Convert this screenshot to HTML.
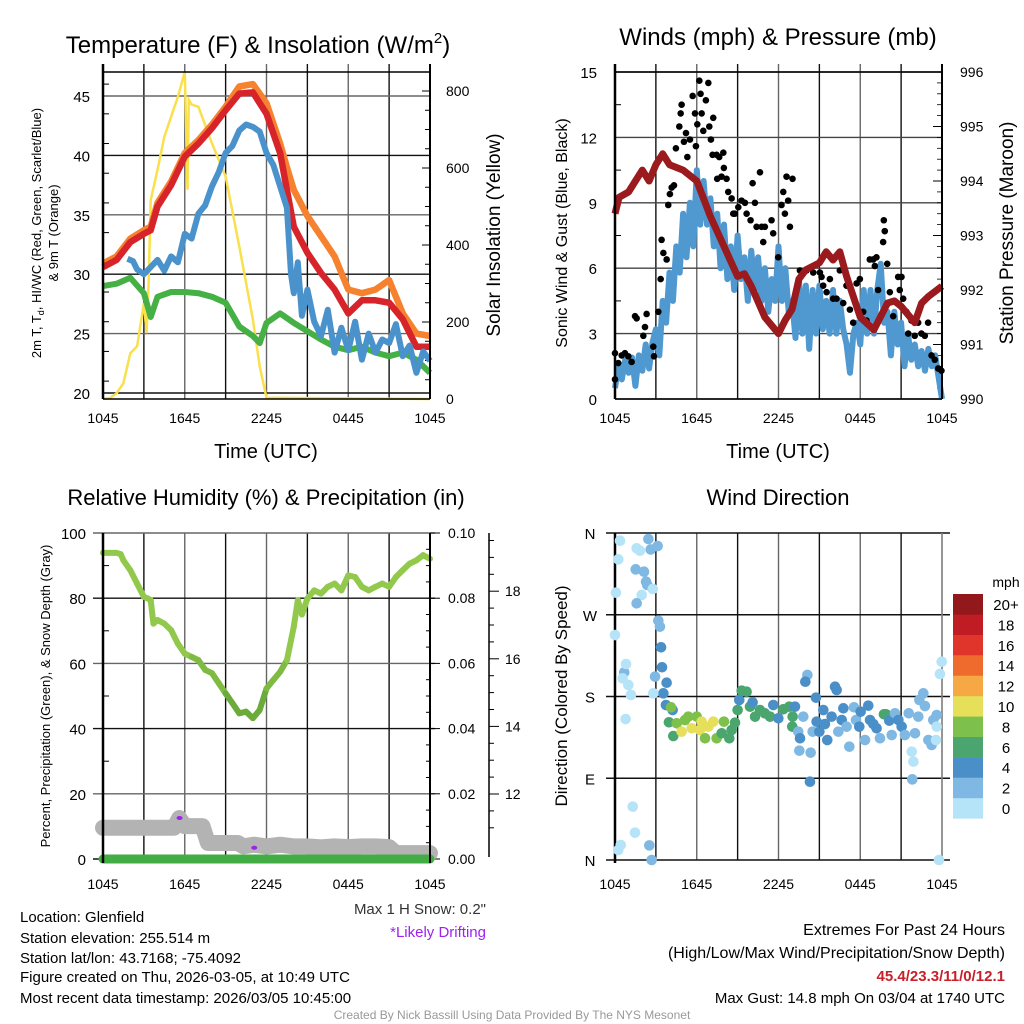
<!DOCTYPE html>
<html><head><meta charset="utf-8"><style>
html,body{margin:0;padding:0;background:#fff;}
svg{display:block;font-family:"Liberation Sans",Arial,sans-serif;}
</style></head><body>
<svg id="fig" width="1024" height="1024" viewBox="0 0 1024 1024"></svg>
<script>
// ---------- DATA (top-level arrays) ----------
const tHours = [0,1,2,3,3.5,4,5,6,7,8,9,10,11,12,13,13.5,14,15,16,17,18,19,20,21,22,23,24];
const temp2m = [30.6,31.2,32.7,33.4,33.7,35.7,37.5,39.9,41,42.3,43.8,45.2,45.3,43.5,40.2,37.1,34,31.8,30.1,28.7,26.7,27.8,27.8,27.6,26.2,23.9,23.9];
const temp9m = [30.9,31.5,33.0,33.7,34.0,36.0,37.8,40.2,41.3,42.6,44.1,45.8,46.0,44.4,41.0,39,37.1,34.9,33.2,31.5,28.7,28.4,28.7,29.5,26.7,25.0,24.8];
const dewHours = [0,1,2,3,3.5,4,5,6,7,8,9,10,11,11.5,12,13,14,15,16,17,18,19,20,21,22,23,24];
const dewpoint = [29,29.2,29.7,28.4,26.4,28.1,28.5,28.5,28.4,28.1,27.6,25.6,24.8,24.2,25.9,26.7,25.9,25.2,24.5,23.9,23.6,23.9,23.4,23.1,23.4,22.8,21.7];
const wcHours = [1.8,2.2,2.5,3,3.5,4,4.5,5,5.5,6,6.5,7,7.5,8,8.5,9,9.5,10,10.5,11,11.5,12,12.5,13,13.5,13.8,14,14.3,14.6,15,15.5,16,16.5,17,17.5,18,18.5,19,19.5,20,20.5,21,21.5,22,22.5,23,23.5,24];
const windChill = [31.3,31.1,30.4,30.0,30.6,31.2,30.3,31.5,31.0,33.4,33.0,35.1,35.8,37.4,38.6,40.2,40.8,42.1,42.6,42.4,42.0,40.2,39.2,37.4,35.6,30,28.4,31,26.5,28.7,26,24.8,27,23.4,25.5,23.6,26,22.8,25,23.4,24.5,24.2,25.8,23.1,24,21.7,23.5,22.7];
const solHours = [0,0.5,1,1.5,2,2.5,3,3.2,3.35,3.5,4,4.5,5,5.5,6,6.2,6.3,6.5,7,8,9,10,11,11.5,12,24];
const solar = [0,2,15,41,119,137,249,171,300,517,595,681,733,785,850,543,777,765,759,664,578,396,206,85,3,0];
const spdHours = [0,0.25,0.5,0.75,1,1.25,1.5,1.75,2,2.25,2.5,2.75,3,3.25,3.5,3.75,4,4.25,4.5,4.75,5,5.25,5.5,5.75,6,6.25,6.5,6.75,7,7.25,7.5,7.75,8,8.25,8.5,8.75,9,9.25,9.5,9.75,10,10.25,10.5,10.75,11,11.25,11.5,11.75,12,12.25,12.5,12.75,13,13.25,13.5,13.75,14,14.25,14.5,14.75,15,15.25,15.5,15.75,16,16.25,16.5,16.75,17,17.25,17.5,17.75,18,18.25,18.5,18.75,19,19.25,19.5,19.75,20,20.25,20.5,20.75,21,21.25,21.5,21.75,22,22.25,22.5,22.75,23,23.25,23.5,23.75,24];
const windSpd = [0.5,1.5,0.9,1.8,1.2,1.9,0.6,2.0,1.3,2.5,1.4,2.6,3.2,2.0,4.5,3.5,5.8,4.5,7.0,5.8,8.5,6.5,9.0,7.0,10.5,8.0,10.0,8.0,9.2,7.0,8.5,6.0,8.0,5.5,7.0,5.0,7.5,5.5,6.5,4.5,6.8,5.0,6.5,4.5,6.0,4.0,5.5,4.5,7.0,4.5,6.0,4.0,4.5,2.8,5.5,3.0,5.2,2.3,5.0,3.0,5.2,3.2,4.5,3.0,5.0,3.0,4.5,3.2,2.5,1.2,3.0,3.5,2.5,5.0,3.0,5.0,3.0,5.0,6.2,3.5,4.0,2.0,4.0,2.5,3.5,1.5,3.0,1.8,2.5,1.5,2.2,1.3,2.3,1.5,2.0,1.0,0];
const gustHours = [0,0,0.24,0.49,0.73,0.98,1.22,1.47,1.59,2.08,2.2,2.32,2.81,2.86,3.18,3.35,3.42,3.55,3.79,3.91,4.03,4.16,4.33,4.47,4.72,4.82,4.89,5.06,5.21,5.31,5.5,5.7,5.87,5.94,6.04,6.19,6.28,6.36,6.48,6.67,6.85,6.92,7.04,7.21,7.16,7.46,7.65,7.95,7.5,7.82,7.99,8.19,8.31,8.56,8.68,8.8,9.05,9.29,9.54,9.66,9.95,10.1,10.27,10.39,10.64,10.76,10.88,11.0,11.49,11.61,11.98,12.22,12.35,12.47,12.59,12.71,12.84,13.03,13.57,14.06,14.55,15.04,15.16,15.28,15.53,15.77,16.01,16.26,16.5,16.75,16.99,17.24,17.48,17.73,17.97,18.22,18.46,18.7,18.95,19.07,19.19,19.31,19.73,19.8,19.68,19.98,20.17,20.42,20.78,20.9,21.03,21.15,21.39,21.52,21.76,22.0,22.25,22.49,22.74,22.98,23.23,23.47,23.72,23.96];
const gustSpd = [0.9,2.1,1.65,2.0,2.1,1.96,1.7,3.8,3.7,2.9,3.3,3.9,2.4,1.96,4.0,5.5,7.3,6.7,6.4,8.9,9.4,9.7,9.8,11.5,12.5,13.1,13.5,11.8,12.2,11.1,11.9,13.9,13.1,11.6,12.6,14.6,14.0,13.1,12.3,13.7,14.5,12.5,11.9,12.9,11.2,11.2,11.1,11.3,10.1,10.2,10.6,10.1,9.5,9.2,8.5,8.5,8.8,9.1,9.0,8.5,8.2,9.9,9.0,7.9,10.4,7.9,7.2,7.9,8.2,7.6,6.5,8.9,9.5,8.5,10.2,9.1,7.9,10.1,5.9,5.9,5.8,5.8,5.6,5.2,4.9,5.5,4.6,4.6,5.9,4.4,5.2,4.1,3.5,5.3,5.5,4.0,3.6,6.4,6.4,6.1,6.5,5.0,8.2,7.7,7.2,6.2,4.9,3.8,5.6,5.0,5.6,4.6,4.0,3.0,3.6,2.9,3.5,3.0,2.9,3.5,2.0,1.8,1.4,1.3];
const presHours = [0,0.3,1,2,2.5,3,3.5,4,5,6,7,8,9,9.5,10,11,12,12.5,13,13.5,14,15,15.5,16,16.5,17,18,19,20,20.5,21,22,22.5,23,24];
const pressure = [993.4,993.7,993.8,994.2,994.0,994.3,994.5,994.3,994.2,994.0,993.35,992.8,992.25,992.3,992.07,991.5,991.2,991.45,991.65,992.2,992.37,992.5,992.7,992.55,992.7,992.25,991.5,991.27,991.76,991.8,991.7,991.4,991.76,991.88,992.07];
const rhHours = [0,1,1.3,1.5,2,2.5,3,3.3,3.5,3.7,4,4.5,5,5.5,6,6.5,7,7.5,8,8.5,9,9.5,10,10.5,11,11.5,12,12.5,13,13.5,14,14.3,14.6,15,15.5,16,16.5,17,17.5,18,18.5,19,19.5,20,20.5,21,21.5,22,22.5,23,23.5,24];
const rh = [93.9,93.9,93.5,91.6,88.6,84.5,80.4,79.9,79.4,72.2,73.3,72.2,70.2,66,63,62,61,58,57,53.9,50.8,47.8,44.7,45.2,43.2,45.7,52.3,54.9,57.4,61,71.2,79.4,75,79.9,82.4,81.4,83.5,84.5,82.4,87,86.5,83.5,82.4,83.5,84.5,83.5,86.5,88.6,90.6,91.6,93.2,92.1];
const precipHours = [0,24];
const precip = [0,0];
const snowHours = [0,5.2,5.6,6.0,7.3,7.7,9.9,10.3,11.1,12,13,14,15,16,17,18,19,20,21,21.5,24];
const snowDepth = [11.0,11.0,11.29,11.05,11.05,10.55,10.55,10.45,10.5,10.45,10.5,10.45,10.45,10.42,10.45,10.43,10.45,10.45,10.43,10.25,10.25];
const driftHours = [5.62,11.1];
const driftDepth = [11.29,10.41];
const dirHours = [0.37,0.24,0.07,0,0.68,0.81,0.56,0.98,1.17,0.78,1.3,1.47,0.42,0.24,1.59,1.83,1.52,2.13,2.28,2.37,1.96,1.59,2.45,2.62,3.13,2.77,2.52,2.69,3.18,3.3,3.38,3.45,2.94,3.79,3.55,2.81,3.74,4.23,4.11,
3.96,4.28,4.53,4.89,5.14,5.38,5.63,6.0,6.24,6.36,6.61,6.85,7.22,7.46,7.83,8.0,8.39,8.56,8.81,9.0,9.12,9.3,9.66,9.91,10.1,10.28,10.64,11.0,11.38,11.62,11.99,12.35,12.79,13.04,13.21,13.01,13.45,13.58,13.53,13.82,14.12,13.97,14.36,14.31,14.51,14.75,14.8,15.0,15.29,15.41,15.58,15.9,16.15,16.27,16.39,16.64,16.76,17.0,17.2,17.54,17.69,17.93,18.03,18.35,18.59,18.72,18.96,19.2,19.45,19.74,19.89,20.13,20.31,20.55,20.8,21.04,21.28,21.56,21.78,21.9,21.82,22.02,22.26,22.34,22.63,22.75,23.0,23.24,23.36,23.61,23.56,23.61,23.85,23.98,23.78];
const dirDeg = [351.5,331,294.3,247.7,206.7,215.8,200,192.7,181.7,155.2,58.7,30.1,16.5,11,343.2,340.5,320,317.4,306.4,302.8,291.8,282.6,353.4,341.9,345.7,298.4,16.1,0,263.5,256.9,234.2,212.2,201.9,195.2,183.5,183.5,170.6,165.1,168.1,
151.6,136.5,150.5,141.3,154.1,157.8,145,157.8,143.1,152.3,134,146.8,152.3,134,139.5,152.3,134,143.1,151.2,165.1,176.2,186.4,185.3,168.8,173.6,157.8,165.1,161.5,157.8,170.6,156,165.9,168.8,157.8,168.8,146.8,141.3,134,120.4,157.8,203.7,196.3,118.2,86.2,141.3,178.7,152.3,141.3,165.1,149.7,132.1,157.8,190.8,187.2,141.3,154.1,167,146.8,124.8,168.1,154.1,146.8,163.3,132.1,169.9,154.1,149.7,145,134,160.4,160.4,153.4,137.6,161.5,154.1,146.8,137.6,161.5,119.3,108.3,88.8,139.5,157.8,176.2,183.5,169.5,132.1,126.6,154.1,146.8,132.1,159.6,204.8,218.3,0];
const dirSpd = [1,1,1,1,3,1,1,1,1,1,1,1,1,1,1,1,3,3,3,3,1,3,3,3,3,1,3,3,3,3,5,5,3,5,5,1,5,5,9,
7,7,9,11,9,9,11,9,11,11,9,11,11,9,7,9,7,7,7,7,5,7,7,7,5,7,7,7,7,5,5,7,7,7,5,7,3,5,3,3,3,5,3,5,3,5,5,5,5,5,5,5,5,5,3,5,5,3,3,3,3,5,5,3,5,5,5,5,3,7,7,5,3,3,5,5,3,3,1,1,3,3,3,3,3,3,3,3,3,1,1,3,1,1,1,1];
const speedBins = [0,2,4,6,8,10,12,14,16,18,20];
const binLabels = ["0","2","4","6","8","10","12","14","16","18","20+"];
const binColors = ["#b5e3f8","#7fb8e2","#4a8fc7","#4aa56e","#7dc04c","#e5df5a","#f5a843","#ef6a2d","#e0352a","#bf1c24","#93181b"];
const timeLabels = ["1045","1645","2245","0445","1045"];

// ---------- helpers ----------
const NS="http://www.w3.org/2000/svg";
const svg=document.getElementById('fig');
function mk(tag,attrs,parent){const e=document.createElementNS(NS,tag);for(const k in attrs)e.setAttribute(k,attrs[k]);(parent||svg).appendChild(e);return e;}
function txt(s,x,y,size,anchor,parent,extra){const t=mk('text',Object.assign({x:x,y:y,'font-size':size,'text-anchor':anchor||'middle',fill:'#000'},extra||{}),parent);t.textContent=s;return t;}
function pathD(xs,ys,fx,fy){let d='';for(let i=0;i<xs.length;i++){d+=(i?'L':'M')+fx(xs[i]).toFixed(1)+','+fy(ys[i]).toFixed(1);}return d;}

function frame(g,x0,y0,x1,y1,xTickTop){
  for(let i=0;i<=8;i++){const x=x0+(x1-x0)*i/8;
    const l=mk('line',{x1:x,y1:y0-(xTickTop?8:0),x2:x,y2:y1,stroke:i%2?'#111':'#666','stroke-width':1.4},g);
    
    }
}

// ---------- PANEL 1 ----------
(function(){
const g=mk('g',{});
const X0=103,X1=430,Y0=72,Y1=399;
const fx=h=>X0+h*(X1-X0)/24, fy=t=>393-(t-20)*11.88, fw=w=>399-w*0.385;
frame(g,X0,Y0,X1,Y1,true);
[20,25,30,35,40,45].forEach(v=>{const l=mk('line',{x1:X0,y1:fy(v),x2:X1,y2:fy(v),stroke:(v%10)?'#666':'#111','stroke-width':1.4},g);
 const t=txt(String(v),90,fy(v)+6,15,'end',g);});
for(let v=21;v<47;v+=2.5){if(v%5)mk('line',{x1:X0,y1:fy(v),x2:X0+6,y2:fy(v),stroke:'#000'},g);}
[0,200,400,600,800].forEach(v=>{mk('line',{x1:X1,y1:fw(v),x2:X1-8,y2:fw(v),stroke:'#000'},g);const t=txt(String(v),446,fw(v)+5,14,'start',g);});
for(let v=50;v<850;v+=50){if(v%200)mk('line',{x1:X1,y1:fw(v),x2:X1-5,y2:fw(v),stroke:'#000'},g);}
const sol=mk('path',{d:pathD(solHours,solar,fx,fw),fill:'none',stroke:'#f9e04c','stroke-width':2.5},g);
const dp=mk('path',{d:pathD(dewHours,dewpoint,fx,fy),fill:'none',stroke:'#45b043','stroke-width':6,'stroke-linejoin':'round'},g);
const o=mk('path',{d:pathD(tHours,temp9m,fx,fy),fill:'none',stroke:'#f6822f','stroke-width':6.5,'stroke-linejoin':'round'},g);
const r=mk('path',{d:pathD(tHours,temp2m,fx,fy),fill:'none',stroke:'#d7242a','stroke-width':6.5,'stroke-linejoin':'round'},g);
const b=mk('path',{d:pathD(wcHours,windChill,fx,fy),fill:'none',stroke:'#4a92cb','stroke-width':6,'stroke-linejoin':'round'},g);
mk('line',{x1:X0,y1:Y0,x2:X1,y2:Y0,stroke:'#000','stroke-width':1.5},g);
mk('line',{x1:X0,y1:Y1,x2:X1,y2:Y1,stroke:'#000','stroke-width':1.5},g);
mk('line',{x1:X0,y1:64,x2:X0,y2:Y1,stroke:'#000','stroke-width':2.5},g);
mk('line',{x1:X1,y1:64,x2:X1,y2:Y1,stroke:'#000','stroke-width':2},g);
timeLabels.forEach((s,i)=>{const t=txt(s,X0+i*(X1-X0)/4,423,14,'middle',g);});
const ti=txt('Temperature (F) & Insolation (W/m',258,53,24,'middle',g);
const ts=mk('tspan',{'font-size':15,dy:-10},ti);ts.textContent='2';const ts2=mk('tspan',{dy:10},ti);ts2.textContent=')';
const xt=txt('Time (UTC)',266,458,20,'middle',g);
const yt=txt('',0,0,13,'middle',g,{transform:'translate(41,233) rotate(-90)'});
yt.innerHTML='<tspan>2m T, T</tspan><tspan font-size="9" dy="3">d</tspan><tspan dy="-3">, HI/WC (Red, Green, Scarlet/Blue)</tspan>';
const yt2=txt('& 9m T (Orange)',0,0,13,'middle',g,{transform:'translate(58,233) rotate(-90)'});
const rt=txt('Solar Insolation (Yellow)',0,0,19,'middle',g,{transform:'translate(500,235) rotate(-90)'});
})();

// ---------- PANEL 2 ----------
(function(){
const g=mk('g',{});
const X0=615,X1=942,Y0=72,Y1=399;
const fx=h=>X0+h*(X1-X0)/24, fs=s=>399-s*21.8, fp=p=>399-(p-990)*54.5;
frame(g,X0,Y0,X1,Y1,true);
[0,3,6,9,12,15].forEach(v=>{const l=mk('line',{x1:X0,y1:fs(v),x2:X1,y2:fs(v),stroke:'#444','stroke-width':1.4},g);
 const t=txt(String(v),597,fs(v)+6,15,'end',g);});
for(let v=1.5;v<15;v+=3){mk('line',{x1:X0,y1:fs(v),x2:X0+6,y2:fs(v),stroke:'#000'},g);}
[990,991,992,993,994,995,996].forEach(v=>{mk('line',{x1:X1,y1:fp(v),x2:X1-9,y2:fp(v),stroke:'#000'},g);const t=txt(String(v),960,fp(v)+5,14,'start',g);});
for(let v=990.2;v<996;v+=0.2){mk('line',{x1:X1,y1:fp(v),x2:X1-5,y2:fp(v),stroke:'#000','stroke-width':0.8},g);}
const b=mk('path',{d:pathD(spdHours,windSpd,fx,fs),fill:'none',stroke:'#4f98d0','stroke-width':6,'stroke-linejoin':'round'},g);
for(let i=0;i<gustHours.length;i++){const c=mk('circle',{cx:fx(gustHours[i]),cy:fs(gustSpd[i]),r:3.3,fill:'#000'},g);
 
 }
const p=mk('path',{d:pathD(presHours,pressure,fx,fp),fill:'none',stroke:'#9a1a1d','stroke-width':7,'stroke-linejoin':'round'},g);
mk('line',{x1:X0,y1:Y0,x2:X1,y2:Y0,stroke:'#000','stroke-width':1.5},g);
mk('line',{x1:X0,y1:Y1,x2:X1,y2:Y1,stroke:'#000','stroke-width':1.5},g);
mk('line',{x1:X0,y1:64,x2:X0,y2:Y1,stroke:'#000','stroke-width':2.5},g);
mk('line',{x1:X1,y1:64,x2:X1,y2:Y1,stroke:'#000','stroke-width':2},g);
timeLabels.forEach((s,i)=>{const t=txt(s,X0+i*(X1-X0)/4,423,14,'middle',g);});
const ti=txt('Winds (mph) & Pressure (mb)',778,45,24,'middle',g);
const xt=txt('Time (UTC)',778,458,20,'middle',g);
const yt=txt('Sonic Wind & Gust (Blue, Black)',0,0,16,'middle',g,{transform:'translate(567,233) rotate(-90)'});
const rt=txt('Station Pressure (Maroon)',0,0,19,'middle',g,{transform:'translate(1013,233) rotate(-90)'});
})();

// ---------- PANEL 3 ----------
(function(){
const g=mk('g',{});
const X0=103,X1=430,Y0=533,Y1=859;
const fx=h=>X0+h*(X1-X0)/24, fr=r=>859-r*3.26, fsn=s=>794-(s-12)*33.8, fpr=p=>859-p*3260;
frame(g,X0,Y0,X1,Y1,false);
[0,20,40,60,80,100].forEach(v=>{const l=mk('line',{x1:93,y1:fr(v),x2:X1+5,y2:fr(v),stroke:(v%40)?'#666':'#111','stroke-width':1.4},g);
 const t=txt(String(v),86,fr(v)+6,15,'end',g);});
for(let v=10;v<100;v+=20){mk('line',{x1:X0,y1:fr(v),x2:X0+6,y2:fr(v),stroke:'#000'},g);}
['0.00','0.02','0.04','0.06','0.08','0.10'].forEach((s,i)=>{const y=fr(i*20);mk('line',{x1:X1,y1:y,x2:X1+10,y2:y,stroke:'#000'},g);const t=txt(s,448,y+5,14,'start',g);});
for(let v=5;v<100;v+=5){if(v%20)mk('line',{x1:X1,y1:fr(v),x2:X1-4,y2:fr(v),stroke:'#000'},g);}
const sa=mk('line',{x1:489,y1:533,x2:489,y2:857,stroke:'#000','stroke-width':1.5},g);
for(let v=11;v<=21;v+=0.5){const y=fsn(v);if(y<535||y>857)continue;const maj=(v%2===0);mk('line',{x1:489,y1:y,x2:maj?499:494,y2:y,stroke:'#000'},g);
 if(maj){const t=txt(String(v),505,y+5,14,'start',g);}}
const sn=mk('path',{d:pathD(snowHours,snowDepth,fx,fsn),fill:'none',stroke:'#b3b3b3','stroke-width':16,'stroke-linejoin':'round','stroke-linecap':'round'},g);
const pr=mk('path',{d:pathD(precipHours,precip,fx,fpr),fill:'none',stroke:'#43ad45','stroke-width':9,'stroke-linecap':'round'},g);
for(let i=0;i<driftHours.length;i++){const c=mk('ellipse',{cx:fx(driftHours[i]),cy:fsn(driftDepth[i]),rx:3,ry:2,fill:'#a020f0'},g);
 
 }
for(let i=1;i<rhHours.length;i++){const v=(rh[i]+rh[i-1])/2;const col=v<50?'#6aab3b':(v<62?'#7fbb43':'#92c94d');
 const s=mk('line',{x1:fx(rhHours[i-1]),y1:fr(rh[i-1]),x2:fx(rhHours[i]),y2:fr(rh[i]),stroke:col,'stroke-width':6,'stroke-linecap':'round'},g);
 
 }
mk('line',{x1:X0,y1:Y0,x2:X0,y2:Y1+4,stroke:'#000','stroke-width':2.5},g);
mk('line',{x1:X1,y1:Y0,x2:X1,y2:Y1+4,stroke:'#000','stroke-width':2},g);
timeLabels.forEach((s,i)=>{const t=txt(s,X0+i*(X1-X0)/4,889,14,'middle',g);});
const ti=txt('Relative Humidity (%) & Precipitation (in)',266,505,22,'middle',g);
const yt=txt('Percent, Precipitation (Green), & Snow Depth (Gray)',0,0,13,'middle',g,{transform:'translate(50,696) rotate(-90)'});
})();

// ---------- PANEL 4 ----------
(function(){
const g=mk('g',{});
const X0=615,X1=942,Y0=533,Y1=860;
const fx=h=>X0+h*(X1-X0)/24, fd=d=>860-d*0.9083;
frame(g,X0,Y0,X1,Y1,false);
[['N',0],['E',90],['S',180],['W',270],['N',360]].forEach(a=>{const y=fd(a[1]);const l=mk('line',{x1:606,y1:y,x2:950,y2:y,stroke:'#111','stroke-width':1.4},g);
 const t=txt(a[0],590,y+6,15,'middle',g);});
mk('line',{x1:X0,y1:Y0,x2:X0,y2:Y1+3,stroke:'#000','stroke-width':2.5},g);
mk('line',{x1:X1,y1:Y0,x2:X1,y2:Y1+3,stroke:'#888','stroke-width':1.5},g);
for(let i=0;i<dirHours.length;i++){const bi=Math.min(10,Math.floor(dirSpd[i]/2));const c=mk('circle',{cx:fx(dirHours[i]),cy:fd(dirDeg[i]),r:5.3,fill:binColors[bi]},g);
 
 }
timeLabels.forEach((s,i)=>{const t=txt(s,X0+i*(X1-X0)/4,889,14,'middle',g);});
const ti=txt('Wind Direction',778,505,22,'middle',g);
const yt=txt('Direction (Colored By Speed)',0,0,17,'middle',g,{transform:'translate(567,696) rotate(-90)'});
const cb=mk('g',{},g);
const mt=txt('mph',1006,587,14,'middle',cb);
for(let i=0;i<speedBins.length;i++){const y=594+(10-i)*20.4;mk('rect',{x:953,y:y,width:30,height:20.6,fill:binColors[i]},cb);
 const t=txt(binLabels[i],1006,y+16,15,'middle',cb);}
})();

// ---------- footer text ----------
(function(){
const g=mk('g',{});
const lines=['Location: Glenfield','Station elevation: 255.514 m','Station lat/lon: 43.7168; -75.4092','Figure created on Thu, 2026-03-05, at 10:49 UTC','Most recent data timestamp: 2026/03/05 10:45:00'];
const ys=[922,943,963,982,1003];
lines.forEach((s,i)=>{const t=txt(s,20,ys[i],15,'start',g);});
let t=txt('Max 1 H Snow: 0.2"',486,914,15,'end',g,{fill:'#333'});
t=txt('*Likely Drifting',486,937,15,'end',g,{fill:'#a020f0'});
t=txt('Extremes For Past 24 Hours',1005,935,16,'end',g);
t=txt('(High/Low/Max Wind/Precipitation/Snow Depth)',1005,958,16,'end',g);
t=txt('45.4/23.3/11/0/12.1',1005,981,15,'end',g,{fill:'#c8202a','font-weight':'bold'});
t=txt('Max Gust: 14.8 mph On 03/04 at 1740 UTC',1005,1003,15,'end',g);
t=txt('Created By Nick Bassill Using Data Provided By The NYS Mesonet',512,1019,12,'middle',g,{fill:'#999'});
})();
</script>
</body></html>
